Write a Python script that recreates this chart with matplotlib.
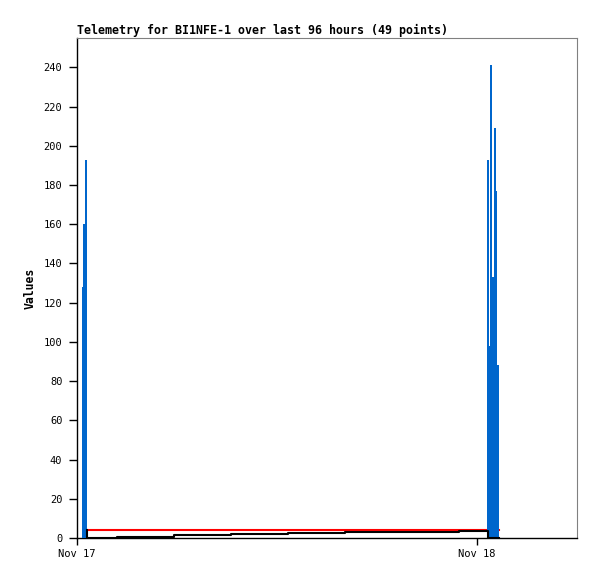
import datetime as dt
import matplotlib
matplotlib.use("Agg")
import matplotlib.pyplot as plt
import matplotlib.dates as mdates

# Data (minutes after Nov 17 00:00)
start = dt.datetime(2023, 11, 17)

spike_minutes = [21, 27, 32, 1480, 1485, 1490, 1496, 1499, 1505, 1510, 1514]
spike_values = [128, 160, 193, 193, 98, 241, 121, 133, 209, 177, 88]

ref_minutes = [25, 1519]
ref_values = [4.1, 4.1]

step_minutes = [36, 37, 144, 348, 553, 761, 966, 1171, 1375, 1478, 1519]
step_values = [4.0, 0.2, 0.7, 1.4, 1.9, 2.4, 2.9, 3.2, 3.7, 0.2, 0.2]

title = "Telemetry for BI1NFE-1 over last 96 hours (49 points)"


def to_time(mins):
    return [start + dt.timedelta(minutes=m) for m in mins]


plt.rcParams['font.family'] = ['DejaVu Sans Mono']

fig = plt.figure(figsize=(5.97, 5.79), dpi=100)
ax = fig.add_axes([77 / 597, 41 / 579, 500 / 597, 500 / 579])

# red reference line (behind the spikes)
ax.plot(to_time(ref_minutes), ref_values, color="#ff0000", linewidth=1.5, zorder=2)

# blue impulses
ax.bar(to_time(spike_minutes), spike_values, width=dt.timedelta(minutes=7.2),
       color="#0066cc", edgecolor="none", zorder=3)

# black step series
ax.plot(to_time(step_minutes), step_values, color="black", linewidth=1.5,
        drawstyle="steps-post", zorder=4)

ax.set_xlim(start, start + dt.timedelta(hours=30))
ax.set_ylim(0, 255)
ax.set_yticks(range(0, 241, 20))
ax.xaxis.set_major_locator(mdates.DayLocator())
ax.xaxis.set_major_formatter(mdates.DateFormatter("%b %d"))

ax.tick_params(axis="y", direction="out", length=5.5, width=1, pad=5, labelsize=7.5)
ax.tick_params(axis="x", direction="out", length=5, width=1, pad=3, labelsize=7.5)

for side in ["top", "right"]:
    ax.spines[side].set_color("#808080")
    ax.spines[side].set_linewidth(0.8)
for side in ["left", "bottom"]:
    ax.spines[side].set_color("black")
    ax.spines[side].set_linewidth(1)

ax.set_ylabel("Values", fontsize=8.3, fontweight="bold")
ax.yaxis.set_label_coords(-0.08, 0.5)
ax.set_title(title, loc="left", fontsize=8.35, fontweight="bold", pad=3)

fig.savefig("out.png", dpi=100)
